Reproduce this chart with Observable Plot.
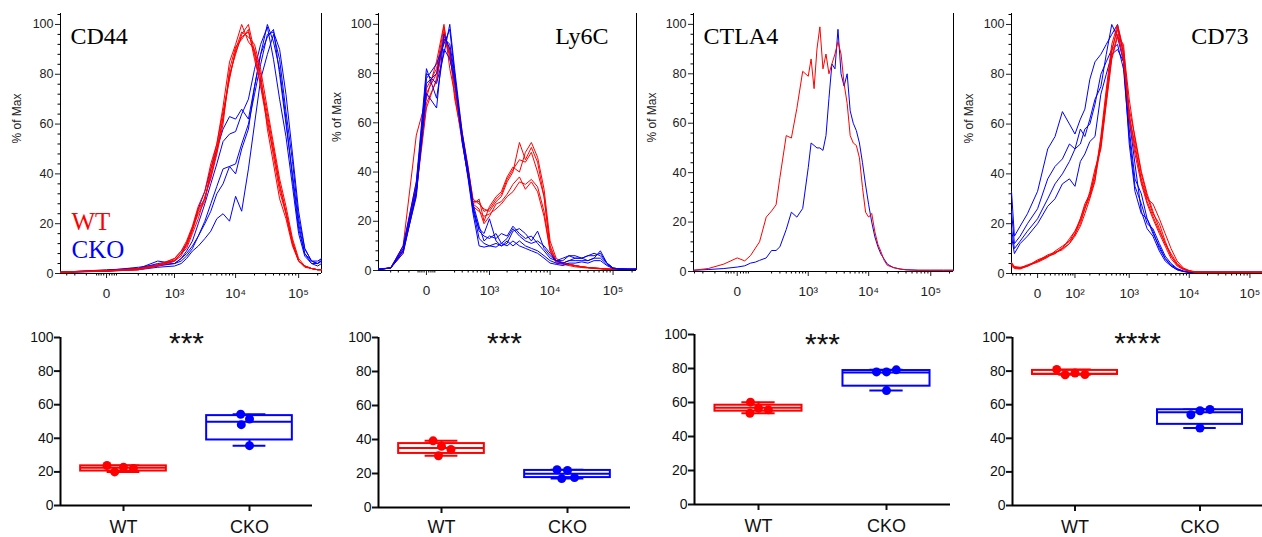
<!DOCTYPE html>
<html><head><meta charset="utf-8">
<script src="https://cdn.jsdelivr.net/npm/d3@7"></script>
<script src="https://cdn.jsdelivr.net/npm/@observablehq/plot@0.6"></script>
<style>
html,body{margin:0;padding:0;background:#fff;overflow:hidden}
#root{position:relative;width:1262px;height:537px;overflow:hidden}
.cell{position:absolute;overflow:hidden}
</style></head><body><div id="root"></div>
<script>
// ---------------- DATA ----------------
const RED = "#ff0000", BLUE = "#0000ff";

// Histograms: x = fluorescence intensity, y = % of Max
const cd44X = [-400,-200,0,200,500,1000,1300,1600,2000,2500,3200,4000,5000,6300,8000,10000,12500,16000,20000,25000,32000,40000,50000,63000,80000,100000,125000,160000,200000,230000];
const cd44WT = [
 [0.5,0.8,1,1.5,3,5,8,11,17,25,30,40,50,63,80,88,96,100,89,78,64,50,36,25,13,5,3,2,1.5,1.5],
 [0.5,0.8,1.2,2,3.5,6,9,12,18,24,29,42,52,65,78,90,97,95,92,82,66,52,38,27,14,6,3,2,1.5,1.5],
 [0.5,0.7,1,1.8,3,5.5,8,10,16,22,31,38,48,60,82,91,94,98,86,76,62,47,33,24,12,5,3,2,1.5,1.5],
 [0.5,0.8,1,1.6,3.2,6,9,13,19,27,33,44,52,67,85,92,100,93,90,80,58,44,30,22,11,5,3,2,1.5,1.5],
 [0.4,0.6,0.9,1.5,3,5,7,12,18,26,30,39,49,62,79,89,95,97,88,75,60,49,35,24,12,5,2.5,2,1.5,1.5]
];
const cd44CKO = [
 [0.5,0.8,1.5,2,4,5,8,12,18,26,33,42,50,58,63,62,66,62,75,88,100,93,82,62,38,18,8,5,5,6],
 [0.5,0.7,1.2,2.5,3.5,4,6,9,13,20,28,36,44,53,56,57,64,70,82,92,99,86,70,55,35,16,7,4,4,5],
 [0.4,0.7,1,2,3,4,5,7,10,15,21,28,35,42,43,40,50,58,75,88,95,98,80,60,40,20,8,4,3,4],
 [0.4,0.6,1,1.5,2.5,3,4,6,9,11,14,17,22,24,21,31,25,42,60,78,88,96,86,65,45,22,10,5,4,5],
 [0.5,0.8,1.2,2,5,4,6,8,11,15,20,25,32,36,43,44,52,60,72,84,96,97,90,72,48,25,10,5,4,6]
];

const ly6cX = [-530,-300,-150,-50,0,50,100,150,200,300,400,500,650,800,1000,1300,1600,2000,2500,3200,4000,5000,6300,8000,10000,12500,16000,20000,25000,32000,40000,50000,63000,80000,100000,130000,170000,235000];
const ly6cWT = [
 [0.5,1,8,34,72,80,97,88,76,55,41,29,27,25,24,28,30,36,40,52,45,50,44,30,10,4,3,2.5,2,1.5,1.2,1,0.8,0.6,0.5,0.5,0.5,0.5],
 [0.5,1,10,55,70,85,100,82,72,52,38,27,29,20,26,30,32,38,42,40,48,52,46,33,12,5,3,2.5,2,1.5,1.2,1,0.8,0.6,0.5,0.5,0.5,0.5],
 [0.5,1,7,32,66,78,95,90,70,54,40,26,24,22,23,25,27,30,32,36,35,37,34,24,8,3.5,3,2.5,2,1.5,1.2,1,0.8,0.6,0.5,0.5,0.5,0.5],
 [0.5,1.2,9,36,74,82,99,86,78,56,42,28,28,24,25,29,31,37,41,45,44,48,40,30,9,4,3,2.5,2,1.5,1.2,1,0.8,0.6,0.5,0.5,0.5,0.5],
 [0.5,1,8,33,68,77,94,88,74,53,39,27,25,19,22,27,28,31,35,38,33,36,32,22,8,3,2.5,2,1.5,1.2,1,0.8,0.6,0.5,0.5,0.5,0.5,0.5]
];
const ly6cCKO = [
 [0.5,1,8,32,78,84,92,98,80,52,38,24,17,15,21,12,10,11,16,17,15,12,16,9,6,4,3,4,5,5,6,6,7,3,1,0.6,0.5,0.5],
 [0.5,1,10,36,82,70,90,86,77,55,40,26,16,14,13,15,11,13,17,14,12,11,12,10,7,4,4,6,5,5,4,5,8,3,1,0.6,0.5,0.5],
 [0.5,1,7,31,72,66,96,90,78,54,39,25,13,11,10,11,10,12,10,12,10,9,8,6,4,3,3,4,4,4,4,5,5,2.5,0.8,0.6,0.5,0.5],
 [0.5,1,9,34,80,76,88,100,82,56,41,27,18,12,14,13,15,14,18,15,13,14,11,8,5,4,5,6,6,5,6,7,6,3,1,0.6,0.5,0.5],
 [0.5,1,8,30,76,80,94,92,80,53,37,23,10,9.5,10,9.5,11,10,12,10,9,8,7,5,3,2.5,2,3,3,3.5,3,4,4,2,0.8,0.6,0.5,0.5]
];

const ctla4X = [-315,-150,-50,0,25,50,75,100,150,200,250,300,400,500,630,800,1000,1120,1260,1410,1580,1780,2000,2240,2510,2820,3160,3550,3980,4470,5010,5620,6310,7080,7940,8910,10000,11200,12600,14100,15800,17800,20000,25000,32000,40000,63000,100000,160000,232000];
const ctla4WT = [
 [0.5,1.2,3,5.5,4.3,6.5,9.5,12,22,24.5,27,38,55,54,66,81,79,86,74,90,99,82,88,80,84,88,93,88,76,68,55,52,51,46,34,24,22,23.5,16,11,8,4.5,2.5,1.6,1,0.7,0.5,0.5,0.5,0.5]
];
const ctla4CKO = [
 [0.5,0.8,1.2,1.8,2.3,3.4,3.8,4.5,5.5,8.5,8.5,10,17,24,22,25.5,42,52,51,50,50,49,55,70,84,82,98,80,75,80,65,60,57,52,44,35,27,20,14,10,7,5,3,1.6,1,0.7,0.5,0.5,0.5,0.5]
];

const cd73X = [-54,-45,-30,-15,0,15,30,50,75,100,130,160,200,250,320,400,500,630,800,1000,1250,1600,2000,2500,3200,4000,5000,6300,8000,10000,12500,16000,25000,40000,63000,100000,161000];
const cd73WT = [
 [4,2.5,2,3,5,7,8,10,12,15,19,24,30,37,55,74,92,100,90,70,54,40,31,24,20,13,7,3.5,1.8,1,0.6,0.5,0.5,0.5,0.5,0.5,0.5],
 [3.5,2.2,2.3,3.2,4.5,6.5,9,11,13,17,22,28,32,40,52,72,90,98,85,64,50,38,30,28,22,16,10,5,2.2,1.2,0.7,0.5,0.5,0.5,0.5,0.5,0.5],
 [4.5,2.8,2.5,2.8,5,7.5,8.5,10,14,17,21,26,33,42,50,68,86,95,92,62,48,36,28,22,16,11,6,3,1.5,0.9,0.6,0.5,0.5,0.5,0.5,0.5,0.5],
 [3,2,1.8,3,5.5,7,8.5,9.5,12,16,20,26,31,40,54,70,89,99,88,66,55,41,32,25,18,12,7,3.5,1.8,1,0.6,0.5,0.5,0.5,0.5,0.5,0.5],
 [4,2.5,2.2,3.5,4.8,6.8,8,10.5,13,15.5,22,27,31,38,51,69,87,96,86,63,52,37,29,23,17,12,8,4,2,1,0.6,0.5,0.5,0.5,0.5,0.5,0.5]
];
const cd73CKO = [
 [33,15,19,24,33,50,55,65,60,56,62,66,78,85,88,92,96,100,88,62,44,25,18,15,9,5,3,1.5,0.8,0.5,0.5,0.5,0.5,0.5,0.5,0.5,0.5],
 [25,12,15,20,26,38,43,46,52,50,58,55,62,70,75,88,100,95,85,58,38,32,22,17,10,6,3,1.5,0.8,0.5,0.5,0.5,0.5,0.5,0.5,0.5,0.5],
 [18,10,13,17,22,30,36,40,45,50,52,58,60,68,80,85,90,92,82,55,35,28,20,18,12,7,4,2,1,0.5,0.5,0.5,0.5,0.5,0.5,0.5,0.5],
 [15,8,12,15,20,27,30,36,38,35,45,48,53,55,72,80,88,90,85,52,33,24,22,16,11,6,3.5,1.8,0.9,0.5,0.5,0.5,0.5,0.5,0.5,0.5,0.5]
];

// Axis ticks and labels
const histTicks = [0, 1e3, 1e4, 1e5];
const histTickLabels = ["0", "10³", "10⁴", "10⁵"];
const cd73Ticks = [0, 1e2, 1e3, 1e4, 1e5];
const cd73TickLabels = ["0", "10²", "10³", "10⁴", "10⁵"];
const pctTicks = [0, 20, 40, 60, 80, 100];
const pctMinorTicks = [4,8,12,16,24,28,32,36,44,48,52,56,64,68,72,76,84,88,92,96,104];
const linTicksWide = [-300,-200,-100,-40,-30,-20,-10,10,20,30,40];
const linTicksNarrow = [-50,-40,-30,-20,-10,10];

// Summary: % positive per mouse
const groups = ["WT", "CKO"];
const cd44PctWT = [22.8, 20.0, 22.0, 23.8];
const cd44PctCKO = [51.5, 48.1, 54.3, 35.6];
const ly6cPctWT = [36.0, 39.2, 34.1, 30.4];
const ly6cPctCKO = [21.8, 17.0, 17.6, 22.2];
const ctla4PctWT = [56.7, 53.7, 55.7, 60.2];
const ctla4PctCKO = [78.0, 78.0, 79.2, 67.0];
const cd73PctWT = [78.8, 77.8, 78.0, 81.0];
const cd73PctCKO = [56.4, 54.0, 57.2, 46.1];
// box stats: [min, q1, median, q3, max]
const cd44Box = [[20.0, 20.5, 22.4, 23.6, 23.8], [35.6, 39.0, 49.9, 53.5, 54.3]];
const ly6cBox = [[30.4, 31.8, 35.0, 37.6, 39.2], [17.0, 17.6, 19.8, 21.8, 22.2]];
const ctla4Box = [[53.7, 54.9, 56.9, 58.4, 60.2], [67.0, 69.6, 77.7, 78.8, 79.2]];
const cd73Box = [[77.8, 78.0, 78.4, 80.4, 81.0], [46.1, 48.3, 55.5, 57.0, 57.2]];
const significance = ["***", "***", "***", "****"];

// ---------------- DRAWING ----------------
const SERIF = "'Liberation Serif', 'Times New Roman', serif";
const SANS = "Arial, 'Liberation Sans', Helvetica, sans-serif";
const root = document.getElementById("root");

function place(svg, left, top, w, h) {
  const d = document.createElement("div");
  d.className = "cell";
  Object.assign(d.style, {left: left + "px", top: top + "px", width: w + "px", height: h + "px"});
  d.appendChild(svg);
  root.appendChild(d);
}

function minorTicks(domain, lin, fromExp) {
  const out = [];
  for (let e = fromExp; e <= 5; e++) for (let m = 2; m <= 9; m++) {
    const v = m * Math.pow(10, e);
    if (v > domain[0] && v < domain[1]) out.push(v);
  }
  lin.forEach(v => { if (v > domain[0] && v < domain[1]) out.push(v); });
  return out;
}

const TOP_H = 305;
function hist(cfg) {
  const rows = (curves, name) => curves.flatMap((ys, i) => ys.map((v, j) => ({x: cfg.xs[j], y: v, id: name + i})));
  const lab = new Map(cfg.ticks.map((t, i) => [t, cfg.labels[i]]));
  const marks = [
    Plot.axisY({ticks: pctTicks, tickSize: 5, tickPadding: 2, fontSize: 12.5, color: "#222", label: null}),
    Plot.axisY({ticks: pctMinorTicks.filter(t => t < 104.4), tickSize: 2.5, tickFormat: () => "", label: null}),
    Plot.axisX({ticks: cfg.ticks, tickSize: 5, tickPadding: 10, fontSize: 13.5, color: "#222", tickFormat: d => lab.get(d), label: null}),
    Plot.axisX({ticks: cfg.minor, tickSize: 2.5, tickFormat: () => "", label: null}),
    Plot.ruleX([cfg.domain[0]], {stroke: "#000"}),
    Plot.ruleY([0], {stroke: "#000"})
  ];
  if (cfg.frameRight) marks.push(Plot.ruleX([cfg.domain[1]], {stroke: "#000"}));
  cfg.order.forEach(([curves, name, color]) => marks.push(Plot.line(rows(curves, name), {x: "x", y: "y", z: "id", stroke: color, strokeWidth: 1})));
  marks.push(Plot.text(["% of Max"], {frameAnchor: "left", rotate: -90, dx: cfg.labelDx, fontSize: 12, fill: "#222"}));
  marks.push(Plot.text([cfg.title], {
    frameAnchor: cfg.titleRight ? "top-right" : "top-left", textAnchor: cfg.titleRight ? "end" : "start",
    lineAnchor: "bottom", dx: cfg.titleDx, dy: 30, fontSize: 24, fontFamily: SERIF, fill: "#000"
  }));
  if (cfg.legend) {
    marks.push(Plot.text([groups[0]], {frameAnchor: "top-left", textAnchor: "start", lineAnchor: "bottom", dx: 11, dy: 216, fontSize: 25, fontFamily: SERIF, fill: RED}));
    marks.push(Plot.text([groups[1]], {frameAnchor: "top-left", textAnchor: "start", lineAnchor: "bottom", dx: 11, dy: 244, fontSize: 25, fontFamily: SERIF, fill: BLUE}));
  }
  return Plot.plot({
    width: cfg.w, height: TOP_H,
    marginLeft: cfg.ml, marginRight: cfg.mr, marginTop: 13, marginBottom: TOP_H - cfg.y0,
    x: {type: "symlog", constant: cfg.c, domain: cfg.domain, label: null},
    y: {domain: [0, 104.4], label: null},
    style: {fontFamily: SANS, background: "white", overflow: "visible"},
    marks
  });
}

const BOX_HALF = 0.34, CAP_HALF = 0.13;
function box(cfg) {
  const pts = cfg.wt.map(v => ({g: groups[0], v})).concat(cfg.cko.map(v => ({g: groups[1], v})));
  const st = groups.map((g, i) => {
    const [min, q1, med, q3, max] = cfg.box[i];
    return {g, min, q1, med, q3, max};
  });
  const c = () => 0.5, bl = () => 0.5 - BOX_HALF, br = () => 0.5 + BOX_HALF, cl = () => 0.5 - CAP_HALF, cr = () => 0.5 + CAP_HALF;
  return Plot.plot({
    width: cfg.w, height: 227,
    marginLeft: cfg.ml, marginRight: cfg.mr, marginTop: cfg.mt, marginBottom: cfg.mb,
    fx: {domain: groups, padding: 0, label: null},
    x: {domain: [0, 1], axis: null},
    y: {domain: [0, 100], label: null},
    color: {domain: groups, range: [RED, BLUE]},
    style: {fontFamily: SANS, background: "white", overflow: "visible"},
    marks: [
      Plot.axisY({ticks: pctTicks, tickSize: 6, tickPadding: 1, fontSize: 14, strokeWidth: 2, color: "#111", label: null}),
      Plot.axisFx({anchor: "bottom", tickSize: 6, tickPadding: cfg.labelPad, fontSize: 18, strokeWidth: 2, color: "#111", label: null}),
      Plot.ruleY([0], {strokeWidth: 2, stroke: "#000"}),
      Plot.ruleX([0], {fx: [groups[0]], y1: [0], y2: [100], strokeWidth: 2, stroke: "#000"}),
      Plot.ruleX(st, {fx: "g", x: c, y1: "q3", y2: "max", stroke: "g", strokeWidth: 2}),
      Plot.ruleX(st, {fx: "g", x: c, y1: "min", y2: "q1", stroke: "g", strokeWidth: 2}),
      Plot.ruleY(st, {fx: "g", y: "max", x1: cl, x2: cr, stroke: "g", strokeWidth: 2}),
      Plot.ruleY(st, {fx: "g", y: "min", x1: cl, x2: cr, stroke: "g", strokeWidth: 2}),
      Plot.rect(st, {fx: "g", x1: bl, x2: br, y1: "q1", y2: "q3", fill: "white", stroke: "g", strokeWidth: 2}),
      Plot.ruleY(st, {fx: "g", y: "med", x1: bl, x2: br, stroke: "g", strokeWidth: 2}),
      Plot.dot(pts, Plot.dodgeX("middle", {fx: "g", y: "v", r: 4.5, fill: "g", padding: 1})),
      Plot.text([{g: groups[0], s: cfg.stars}], {fx: "g", text: "s", frameAnchor: "top-right", textAnchor: "middle", lineAnchor: "bottom", dy: cfg.starDy, fontSize: 30, fill: "#111"})
    ]
  });
}

// ---- top row
const d1 = [-400, 230000], d2 = [-530, 235000], d3 = [-315, 232000], d4 = [-54, 161000];
place(hist({w: 325, ml: 60, mr: 4, y0: 273, xs: cd44X, c: 92, domain: d1, ticks: histTicks, labels: histTickLabels,
  minor: minorTicks(d1, linTicksWide, 2), order: [[cd44CKO, "c", BLUE], [cd44WT, "w", RED]],
  title: "CD44", titleDx: 10, labelDx: -43.3, frameRight: true, legend: true}), 0, 0, 325, TOP_H);
place(hist({w: 315, ml: 53, mr: 4, y0: 270, xs: ly6cX, c: 112, domain: d2, ticks: histTicks, labels: histTickLabels,
  minor: minorTicks(d2, linTicksWide, 2), order: [[ly6cWT, "w", RED], [ly6cCKO, "c", BLUE]],
  title: "Ly6C", titleRight: true, titleDx: -28, labelDx: -41.3, frameRight: true}), 325, 0, 315, TOP_H);
place(hist({w: 315, ml: 53, mr: 2, y0: 271, xs: ctla4X, c: 78, domain: d3, ticks: histTicks, labels: histTickLabels,
  minor: minorTicks(d3, linTicksWide, 2), order: [[ctla4CKO, "c", BLUE], [ctla4WT, "w", RED]],
  title: "CTLA4", titleDx: 10, labelDx: -41.3, frameRight: true}), 640, 0, 315, TOP_H);
place(hist({w: 307, ml: 56, mr: 0, y0: 273, xs: cd73X, c: 32, domain: d4, ticks: cd73Ticks, labels: cd73TickLabels,
  minor: minorTicks(d4, linTicksNarrow, 1), order: [[cd73CKO, "c", BLUE], [cd73WT, "w", RED]],
  title: "CD73", titleRight: true, titleDx: -14, labelDx: -42.7, frameRight: false}), 955, 0, 307, TOP_H);

// ---- bottom row
place(box({w: 325, ml: 59, mr: 13, mt: 27, mb: 32, labelPad: 9, wt: cd44PctWT, cko: cd44PctCKO, box: cd44Box, stars: significance[0], starDy: 15}), 0, 310, 325, 227);
place(box({w: 315, ml: 52, mr: 10, mt: 27, mb: 30, labelPad: 7, wt: ly6cPctWT, cko: ly6cPctCKO, box: ly6cBox, stars: significance[1], starDy: 15.5}), 325, 310, 315, 227);
place(box({w: 315, ml: 53, mr: 5, mt: 24, mb: 33, labelPad: 9, wt: ctla4PctWT, cko: ctla4PctCKO, box: ctla4Box, stars: significance[2], starDy: 19}), 640, 310, 315, 227);
place(box({w: 307, ml: 57, mr: 0, mt: 27, mb: 32, labelPad: 9, wt: cd73PctWT, cko: cd73PctCKO, box: cd73Box, stars: significance[3], starDy: 15.5}), 955, 310, 307, 227);
</script></body></html>
